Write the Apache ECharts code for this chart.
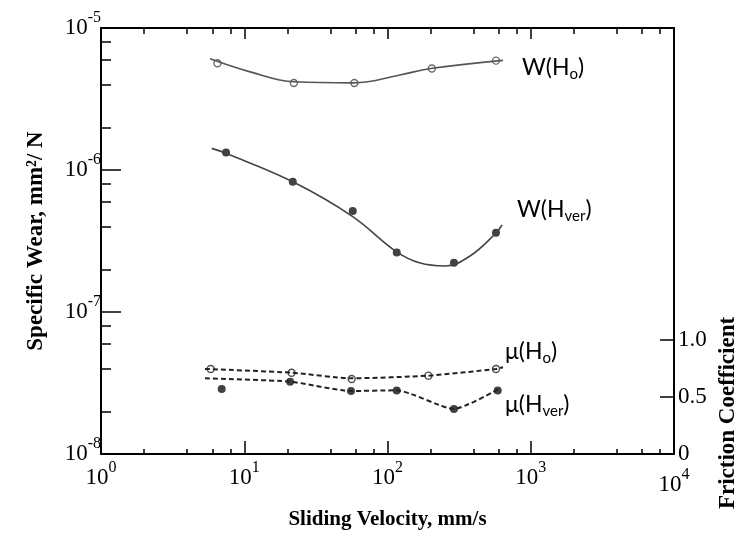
<!DOCTYPE html>
<html>
<head>
<meta charset="utf-8">
<script src="https://cdn.jsdelivr.net/npm/echarts@6/dist/echarts.min.js"></script>
<style>
  html, body { margin: 0; padding: 0; background: #fff; }
  #chart { width: 738px; height: 535px; }
</style>
</head>
<body>
<div id="chart"></div>
<script>
// measured points (open = H_o, filled = H_ver)
const woX = [6.5, 22.2, 58.7, 204, 572];
const woY = [5.65e-6, 4.1e-6, 4.1e-6, 5.19e-6, 5.89e-6];
const wvX = [7.46, 21.8, 57.2, 116, 291, 572];
const wvY = [1.33e-6, 8.27e-7, 5.14e-7, 2.62e-7, 2.22e-7, 3.62e-7];
const muoX = [5.83, 21.4, 56.2, 193, 572];
const muoY = [0.742, 0.710, 0.655, 0.684, 0.742];
const muvX = [6.96, 20.9, 55.6, 116, 291, 588];
const muvY = [0.568, 0.632, 0.550, 0.554, 0.394, 0.554];

// fitted curves as drawn in the figure
const woCurveX = [5.77, 11.0, 22.2, 58.3, 122, 205, 640];
const woCurveY = [6.07e-6, 4.91e-6, 4.18e-6, 4.11e-6, 4.67e-6, 5.21e-6, 5.92e-6];
const wvCurveX = [5.93, 7.46, 21.8, 56.5, 116, 169, 252, 377, 572, 630];
const wvCurveY = [1.42e-6, 1.31e-6, 8.27e-7, 4.74e-7, 2.65e-7, 2.21e-7, 2.11e-7, 2.48e-7, 3.6e-7, 4.1e-7];
const muoCurveX = [5.32, 21.4, 56.2, 193, 572, 640];
const muoCurveY = [0.743, 0.710, 0.661, 0.684, 0.742, 0.757];
const muvCurveX = [5.32, 20.9, 55.6, 116, 291, 610];
const muvCurveY = [0.661, 0.632, 0.550, 0.556, 0.394, 0.574];

// ticks
const xMinor = [2, 4, 6, 8, 20, 40, 60, 80, 200, 400, 600, 800, 2000, 4000, 6000, 8000];
const yMinor = [2e-8, 4e-8, 6e-8, 8e-8, 2e-7, 4e-7, 6e-7, 8e-7, 2e-6, 4e-6, 6e-6, 8e-6];
const muTicks = [0.5, 1.0];
const muLabels = [0, 0.5, 1.0];

const zip = (xs, ys) => xs.map((x, i) => [x, ys[i]]);

const serif = 'Liberation Serif';
const powRich = {
  b: { fontFamily: serif, fontSize: 23, lineHeight: 24, color: '#000' },
  s: { fontFamily: serif, fontSize: 16, lineHeight: 16, padding: [0, 0, 20, 0], color: '#000' },
  // last x label sits lower, under the right axis "0"
  b4: { fontFamily: serif, fontSize: 23, lineHeight: 24, padding: [14, 0, 0, 0], color: '#000' },
  s4: { fontFamily: serif, fontSize: 16, lineHeight: 16, padding: [0, 0, 6, 0], color: '#000' }
};
const powFmt = v => '{b|10}{s|' + Math.round(Math.log10(v)) + '}';
const powFmtX = v => v >= 10000 ? '{b4|10}{s4|4}' : powFmt(v);

const chart = echarts.init(document.getElementById('chart'));

const logX = (extra) => Object.assign({
  type: 'log', logBase: 10, min: 1, max: 10000,
  splitLine: { show: false }
}, extra);
const logY = (extra) => Object.assign({
  type: 'log', logBase: 10, min: 1e-8, max: 1e-5,
  splitLine: { show: false }
}, extra);

const annoRich = {
  m: { fontFamily: 'Lato', fontSize: 23, color: '#555a52' },
  u: { fontFamily: 'Lato', fontSize: 15, color: '#555a52', padding: [13, 0, 0, 0] }
};
const anno = (x, y, txt) => ({
  type: 'text', left: x, top: y,
  style: { text: txt, rich: annoRich, verticalAlign: 'middle' }
});

chart.setOption({
  backgroundColor: '#fff',
  animation: false,
  grid: { left: 101, right: 64, top: 28, bottom: 79, containLabel: false },
  xAxis: [
    logX({
      position: 'bottom',
      axisLine: { lineStyle: { color: '#000', width: 2 } },
      axisTick: { inside: true, length: 13, lineStyle: { color: '#000', width: 1.5 } },
      axisLabel: { formatter: powFmtX, rich: powRich, margin: 12 },
      name: 'Sliding Velocity, mm/s',
      nameLocation: 'middle',
      nameGap: 55,
      nameTextStyle: { fontFamily: serif, fontWeight: 'bold', fontSize: 21, color: '#000' }
    }),
    logX({
      position: 'bottom',
      axisLine: { show: false },
      axisTick: { inside: true, length: 5, customValues: xMinor, lineStyle: { color: '#000', width: 1.5 } },
      axisLabel: { show: false }
    }),
    logX({
      position: 'top',
      axisLine: { lineStyle: { color: '#000', width: 2 } },
      axisTick: { inside: true, length: 11, lineStyle: { color: '#000', width: 1.5 } },
      axisLabel: { show: false }
    }),
    logX({
      position: 'top',
      axisLine: { show: false },
      axisTick: { inside: true, length: 6, customValues: xMinor, lineStyle: { color: '#000', width: 1.5 } },
      axisLabel: { show: false }
    })
  ],
  yAxis: [
    logY({
      position: 'left',
      axisLine: { lineStyle: { color: '#000', width: 2 } },
      axisTick: { inside: true, length: 20, lineStyle: { color: '#000', width: 1.5 } },
      axisLabel: { formatter: powFmt, rich: powRich, margin: 0, align: 'right' },
      name: 'Specific Wear, mm²/ N',
      nameLocation: 'middle',
      nameGap: 53,
      nameTextStyle: { fontFamily: serif, fontWeight: 'bold', fontSize: 23, color: '#000' }
    }),
    logY({
      position: 'left',
      axisLine: { show: false },
      axisTick: { inside: true, length: 10, customValues: yMinor, lineStyle: { color: '#000', width: 1.5 } },
      axisLabel: { show: false }
    }),
    {
      type: 'value', position: 'right', min: 0, max: 3.72,
      splitLine: { show: false },
      axisLine: { lineStyle: { color: '#000', width: 2 } },
      axisTick: { inside: true, length: 14, customValues: muTicks, lineStyle: { color: '#000', width: 1.5 } },
      axisLabel: {
        customValues: muLabels, margin: 4,
        fontFamily: serif, fontSize: 23, color: '#000',
        formatter: v => v === 0 ? '0' : v.toFixed(1)
      }
    }
  ],
  graphic: [
    {
      type: 'text', x: 728, y: 413, rotation: Math.PI / 2,
      style: {
        text: 'Friction Coefficient', fontFamily: serif, fontWeight: 'bold', fontSize: 23,
        fill: '#000', align: 'center', verticalAlign: 'middle'
      }
    },
    anno(522, 56, '{m|W(H}{u|o}{m|)}'),
    anno(517, 198, '{m|W(H}{u|ver}{m|)}'),
    anno(505, 340, '{m|μ(H}{u|o}{m|)}'),
    anno(505, 393, '{m|μ(H}{u|ver}{m|)}')
  ],
  series: [
    {
      type: 'line', xAxisIndex: 0, yAxisIndex: 0, data: zip(woCurveX, woCurveY),
      smooth: 0.4, showSymbol: false, lineStyle: { color: '#555', width: 1.6 }
    },
    {
      type: 'line', xAxisIndex: 0, yAxisIndex: 0, data: zip(wvCurveX, wvCurveY),
      smooth: 0.4, showSymbol: false, lineStyle: { color: '#444', width: 1.6 }
    },
    {
      type: 'line', xAxisIndex: 0, yAxisIndex: 2, data: zip(muoCurveX, muoCurveY),
      smooth: 0.2, showSymbol: false, lineStyle: { color: '#222', width: 2, type: [5, 3] }
    },
    {
      type: 'line', xAxisIndex: 0, yAxisIndex: 2, data: zip(muvCurveX, muvCurveY),
      smooth: 0.2, showSymbol: false, lineStyle: { color: '#222', width: 2, type: [5, 3] }
    },
    {
      type: 'scatter', xAxisIndex: 0, yAxisIndex: 0, data: zip(woX, woY),
      symbolSize: 7, itemStyle: { color: '#fff', borderColor: '#444', borderWidth: 1.4 }
    },
    {
      type: 'scatter', xAxisIndex: 0, yAxisIndex: 0, data: zip(wvX, wvY),
      symbolSize: 8, itemStyle: { color: '#111' }
    },
    {
      type: 'scatter', xAxisIndex: 0, yAxisIndex: 2, data: zip(muoX, muoY),
      symbolSize: 7, itemStyle: { color: '#fff', borderColor: '#222', borderWidth: 1.4 }
    },
    {
      type: 'scatter', xAxisIndex: 0, yAxisIndex: 2, data: zip(muvX, muvY),
      symbolSize: 8, itemStyle: { color: '#111' }
    }
  ]
});
</script>
</body>
</html>
